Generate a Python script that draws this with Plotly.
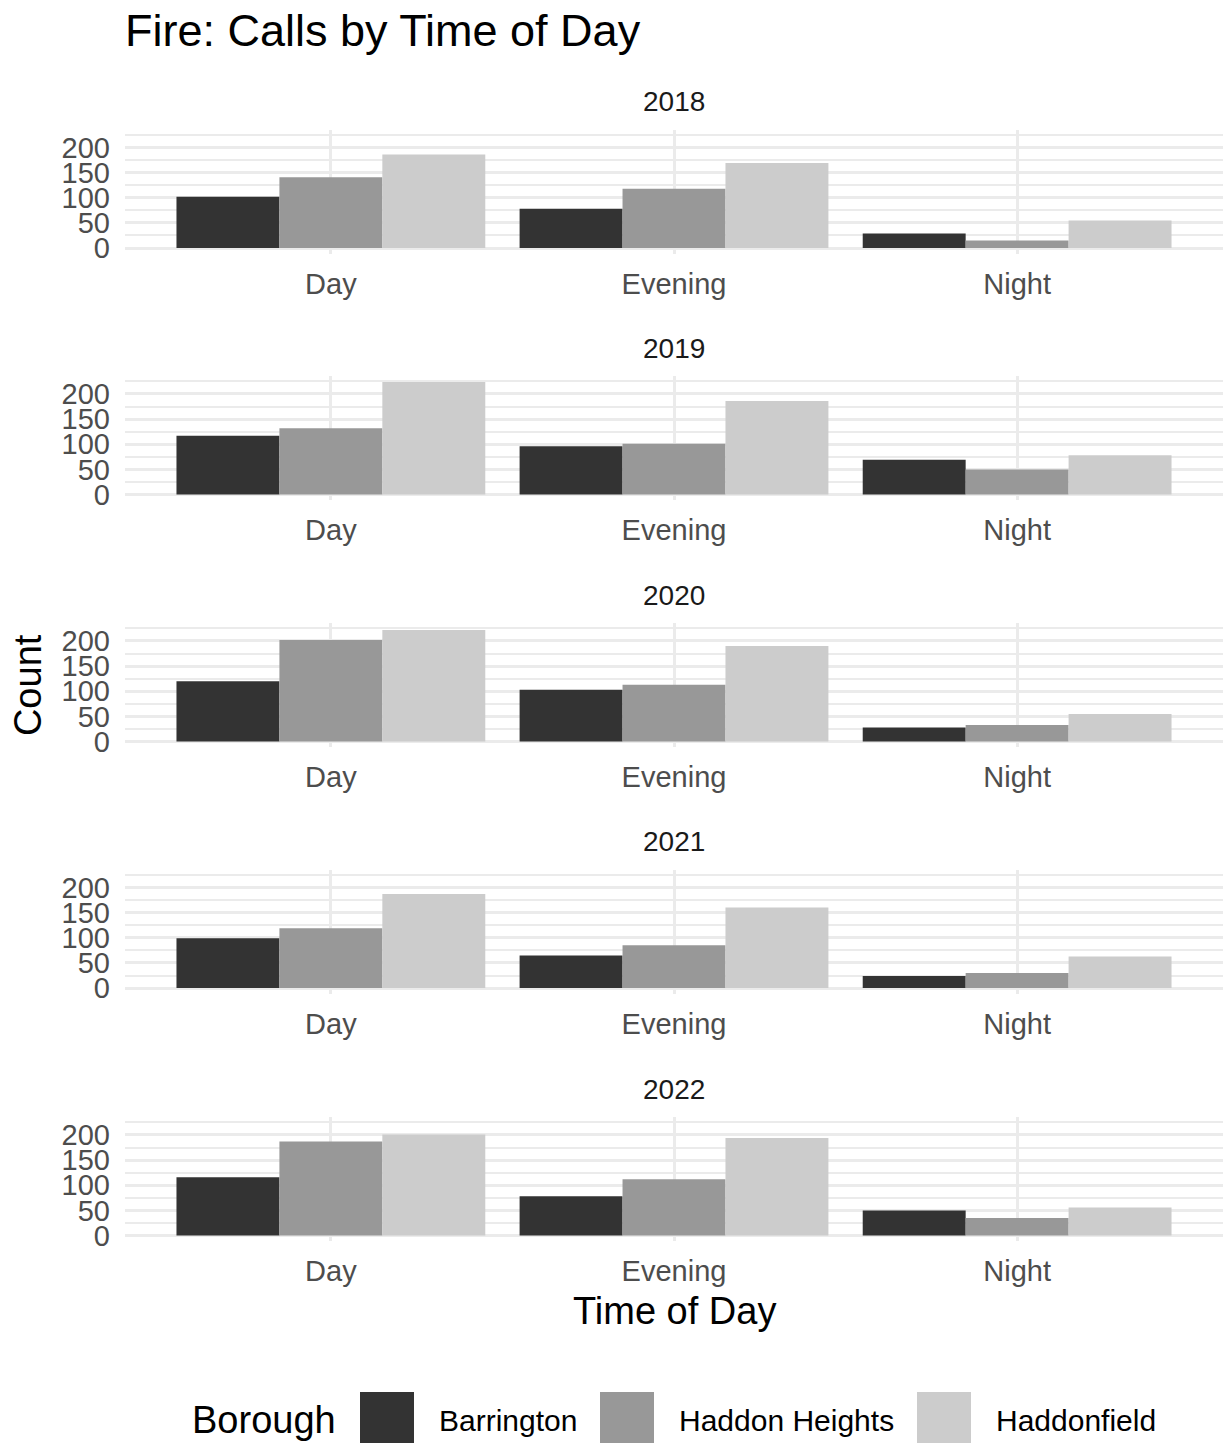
import plotly.graph_objects as go
from plotly.subplots import make_subplots

# ---- data ----
years = ["2018", "2019", "2020", "2021", "2022"]
times = ["Day", "Evening", "Night"]
boroughs = ["Barrington", "Haddon Heights", "Haddonfield"]
barrington = {
    "2018": [102, 78, 29],
    "2019": [117, 96, 69],
    "2020": [120, 103, 28],
    "2021": [99, 65, 24],
    "2022": [116, 78, 50],
}
haddon_heights = {
    "2018": [141, 118, 15],
    "2019": [132, 101, 50],
    "2020": [202, 113, 33],
    "2021": [119, 85, 30],
    "2022": [187, 112, 35],
}
haddonfield = {
    "2018": [186, 169, 55],
    "2019": [224, 186, 78],
    "2020": [222, 190, 55],
    "2021": [187, 160, 63],
    "2022": [201, 194, 56],
}
y_ticks = [0, 50, 100, 150, 200]

# ---- styling ----
PAGE_W, PAGE_H = 1231, 1445
BODY = 8  # default page body margin
W, H = PAGE_W - 2 * BODY, PAGE_H
YS = 1.007  # small vertical correction
colors = ["#333333", "#989898", "#CCCCCC"]
FONT = "Liberation Sans, Arial, Helvetica, sans-serif"
GRID = "#EBEBEB"

def px_x(x):
    return (x - BODY) / W

def px_y(y):
    return 1 - (y * YS - BODY) / H

series = [barrington, haddon_heights, haddonfield]
ymax = max(max(max(s[y]) for y in years) for s in series)
y_lo, y_hi = -0.05 * ymax, 1.05 * ymax
unit = 0.503  # px per count
zeros = [248.0, 494.5, 741.5, 988.0, 1235.5]

fig = make_subplots(rows=5, cols=1)

for i, yr in enumerate(years):
    for b, s, c in zip(boroughs, series, colors):
        fig.add_trace(
            go.Bar(x=times, y=s[yr], name=b, marker=dict(color=c, line=dict(width=0)),
                   showlegend=False, offsetgroup=b),
            row=i + 1, col=1,
        )
    z = zeros[i]
    top = z - (y_hi) * unit
    bot = z - (y_lo) * unit
    xa = "xaxis" if i == 0 else f"xaxis{i+1}"
    ya = "yaxis" if i == 0 else f"yaxis{i+1}"
    fig.layout[xa].update(
        domain=[px_x(125), min(1.0, px_x(1224))], type="category", range=[-0.6, 2.6],
        showgrid=True, gridcolor=GRID, gridwidth=2.5, zeroline=False, showline=False,
        ticks="", tickfont=dict(family=FONT, size=29, color="#4D4D4D"),
        ticklabelstandoff=10,
    )
    fig.layout[ya].update(
        domain=[px_y(bot), px_y(top)], range=[y_lo, y_hi],
        tickmode="array", tickvals=y_ticks,
        minor=dict(tickmode="linear", tick0=0, dtick=25, showgrid=True, gridcolor=GRID, gridwidth=1.5),
        showgrid=True, gridcolor=GRID, gridwidth=2.5, zeroline=False, showline=False,
        ticks="", tickfont=dict(family=FONT, size=29, color="#4D4D4D"),
        ticklabelstandoff=14,
    )
    # facet strip label
    fig.add_annotation(x=px_x(674), y=px_y(top - 28), xref="paper", yref="paper",
                       text=yr, showarrow=False, xanchor="center", yanchor="middle",
                       font=dict(family=FONT, size=28, color="#1A1A1A"))

# axis titles
fig.add_annotation(x=px_x(674), y=px_y(1311), xref="paper", yref="paper", text="Time of Day",
                   showarrow=False, xanchor="center", yanchor="middle",
                   font=dict(family=FONT, size=38, color="black"))
fig.add_annotation(x=px_x(28), y=px_y(685), xref="paper", yref="paper", text="Count",
                   showarrow=False, xanchor="center", yanchor="middle", textangle=-90,
                   font=dict(family=FONT, size=38, color="black"))

# legend (drawn manually to match large key swatches)
fig.add_annotation(x=px_x(338), y=px_y(1420), xref="paper", yref="paper", text="Borough",
                   showarrow=False, xanchor="right", yanchor="middle",
                   font=dict(family=FONT, size=38, color="black"))
key_x = [360, 600, 917]
for kx, b, c in zip(key_x, boroughs, colors):
    fig.add_shape(type="rect", xref="paper", yref="paper",
                  x0=px_x(kx), x1=px_x(kx + 54), y0=0, y1=px_y(1392),
                  fillcolor=c, line=dict(width=0))
    fig.add_annotation(x=px_x(kx + 77), y=px_y(1420), xref="paper", yref="paper", text=b,
                       showarrow=False, xanchor="left", yanchor="middle",
                       font=dict(family=FONT, size=30, color="black"))

fig.update_layout(
    width=W, height=H,
    margin=dict(l=0, r=0, t=0, b=0),
    paper_bgcolor="white", plot_bgcolor="white",
    barmode="group", bargap=0.1, bargroupgap=0,
    title=dict(text="Fire: Calls by Time of Day", x=px_x(125), xanchor="left",
               y=px_y(30), yanchor="middle", xref="paper", yref="paper",
               font=dict(family=FONT, size=45, color="black")),
)

fig.write_html("out.html")
